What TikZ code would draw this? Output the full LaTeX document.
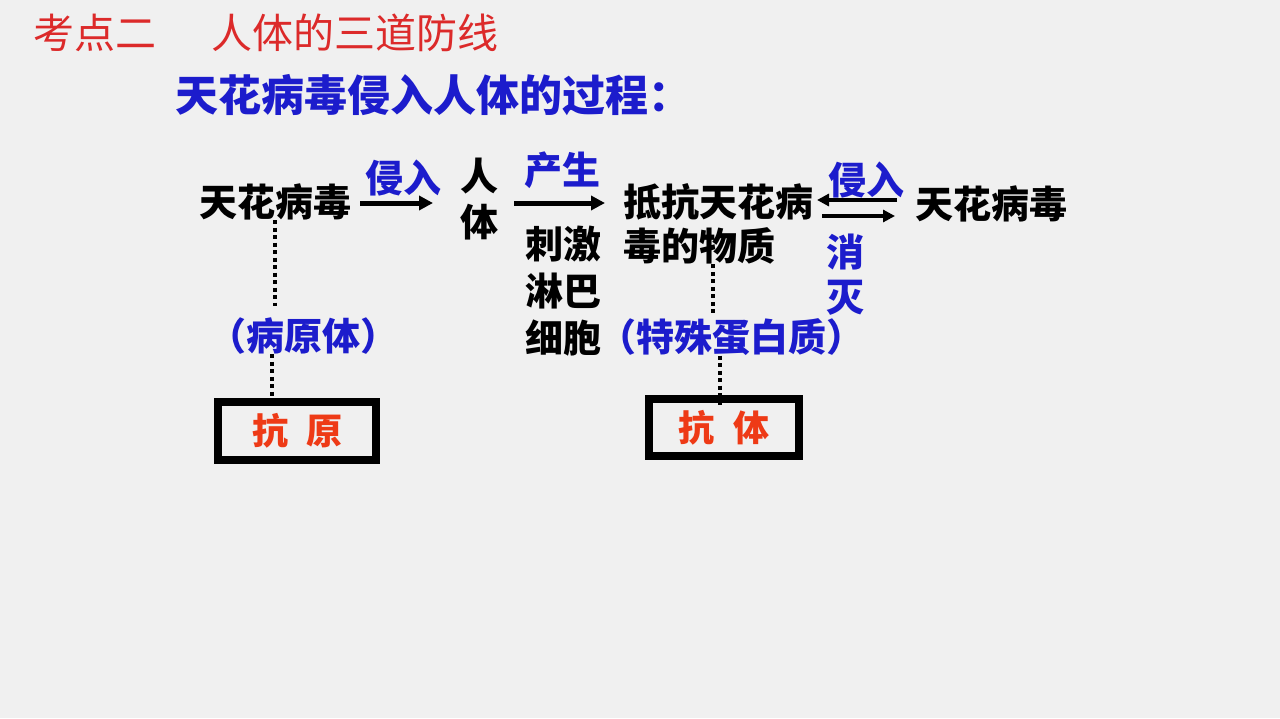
\documentclass[tikz,border=0pt]{standalone}
\usepackage{fontspec}
\setmainfont{Noto Sans CJK SC}
\usetikzlibrary{arrows.meta}
\definecolor{bg}{HTML}{F0F0F0}
\definecolor{tred}{HTML}{DC2A2A}
\definecolor{lblue}{HTML}{1C1CCC}
\definecolor{bred}{HTML}{EE3A16}
\begin{document}
\begin{tikzpicture}[x=1pt,y=-1pt,
  every node/.style={inner sep=0pt, outer sep=0pt},
  blk/.style={font=\fontsize{38pt}{44pt}\selectfont\bfseries, text=black, align=left},
  lbl/.style={font=\fontsize{38pt}{45pt}\selectfont\bfseries, text=lblue, align=center},
  ttl/.style={font=\fontsize{41pt}{41pt}\selectfont, text=tred},
  boxtxt/.style={font=\fontsize{36pt}{36pt}\selectfont\bfseries, text=bred},
  frame/.style={draw=black, line width=8.5pt},
  arr/.style={line width=5pt, -{Triangle[length=14pt,width=14pt]}},
  arrs/.style={line width=4.5pt, -{Triangle[length=12pt,width=12pt]}},
  dots/.style={line width=4.5pt, dash pattern=on 4pt off 3.5pt}]
\fill[bg] (0,0) rectangle (1280,718);
\useasboundingbox (0,0) rectangle (1280,718);

% titles
\node[ttl] (t1) at (95,33) {考点二};
\node[ttl] (t2) at (354.5,33) {人体的三道防线};
\node[font=\fontsize{43pt}{43pt}\selectfont\bfseries, text=lblue, anchor=west] (sub) at (175,95) {天花病毒侵入人体的过程：};

% main row
\node[blk] (v1) at (275,202) {天花病毒};
\node[blk, align=center] (body) at (479,199) {人\\[2pt]体};
\node[blk] (mat) at (718,224) {抵抗天花病\\毒的物质};
\node[blk] (v2) at (991,204) {天花病毒};
\node[blk, font=\fontsize{38pt}{47pt}\selectfont\bfseries] (lym) at (563,291) {刺激\\淋巴\\细胞};

% blue labels
\node[lbl] (in1) at (403,178) {侵入};
\node[lbl] (gen) at (562,170) {产生};
\node[lbl] (in2) at (866,180) {侵入};
\node[lbl] (kill) at (845,275) {消\\灭};
\node[lbl] (p1) at (303,336) {（病原体）};
\node[lbl] (p2) at (731,337) {（特殊蛋白质）};

% boxes
\node[frame, minimum width=158pt, minimum height=58pt] (box1) at (297,431) {};
\node[boxtxt] (ag) at (box1.center) {抗\hspace{18pt}原};
\node[frame, minimum width=150pt, minimum height=57pt] (box2) at (724,427.5) {};
\node[boxtxt] (ab) at (box2.center) {抗\hspace{20pt}体};

% arrows
\draw[arr] ([shift={(9pt,-1pt)}]v1.east) -- ([shift={(-27pt,-4pt)}]body.west);
\draw[arr] ([shift={(16pt,-4pt)}]body.east) -- ([shift={(-18pt,21pt)}]mat.west);
\draw[arrs] ([shift={(-18pt,4pt)}]v2.west) -- ([shift={(4pt,24pt)}]mat.east);
\draw[arrs] ([shift={(9pt,8pt)}]mat.east) -- ([shift={(-20pt,-12pt)}]v2.west);

% dotted connectors
\draw[dots] (v1.south) -- ([yshift=12pt]v1.south |- p1.north);
\draw[dots] ([xshift=-25pt]box1.north |- p1.south) -- ([xshift=-25pt]box1.north);
\draw[dots] ([xshift=-5pt]mat.south) -- ([shift={(-5pt,5pt)}]mat.south |- p2.north);
\draw[dots] ([xshift=-4pt]box2.north |- p2.south) -- ([shift={(-4pt,-6pt)}]box2.north);
\end{tikzpicture}
\end{document}
